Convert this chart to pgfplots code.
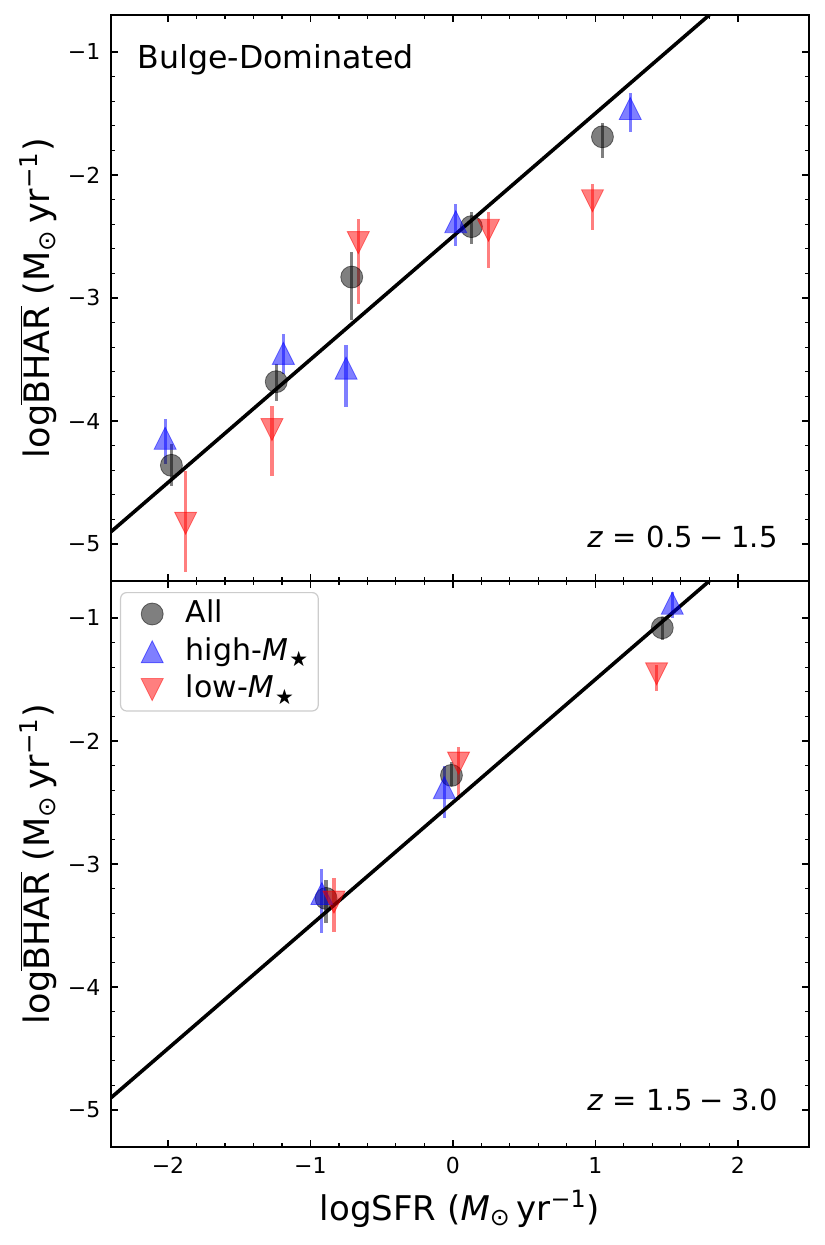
\documentclass[border=0pt]{standalone}
\usepackage{fontspec}
\setmainfont{DejaVu Sans}
\usepackage{pgfplots}
\usepackage{pgfplotstable}
\pgfplotsset{compat=1.18}

% matplotlib-like triangles: as wide as they are tall
\pgfdeclareplotmark{tup}{%
  \pgfpathmoveto{\pgfqpoint{0pt}{\pgfplotmarksize}}%
  \pgfpathlineto{\pgfqpoint{-\pgfplotmarksize}{-\pgfplotmarksize}}%
  \pgfpathlineto{\pgfqpoint{\pgfplotmarksize}{-\pgfplotmarksize}}%
  \pgfpathclose
  \pgfusepathqfillstroke}
\pgfdeclareplotmark{tdown}{%
  \pgfpathmoveto{\pgfqpoint{0pt}{-\pgfplotmarksize}}%
  \pgfpathlineto{\pgfqpoint{-\pgfplotmarksize}{\pgfplotmarksize}}%
  \pgfpathlineto{\pgfqpoint{\pgfplotmarksize}{\pgfplotmarksize}}%
  \pgfpathclose
  \pgfusepathqfillstroke}

% stellar-mass subscript
\newcommand{\mstar}{\textit{M}\kern0.05em\raisebox{-0.22em}{\fontsize{10.5}{12}\selectfont ★}}

% z = 0.5 - 1.5
\pgfplotstableread{
x y ep em
-1.976 -4.36 0.17 0.17
-1.24 -3.68 0.14 0.16
-0.71 -2.83 0.20 0.35
0.13 -2.42 0.12 0.14
1.05 -1.69 0.11 0.17
}\loall
\pgfplotstableread{
x y ep em
-2.02 -4.14 0.16 0.21
-1.19 -3.45 0.16 0.17
-0.75 -3.57 0.19 0.32
0.02 -2.38 0.14 0.20
1.245 -1.46 0.13 0.19
}\lohigh
\pgfplotstableread{
x y ep em
-1.876 -4.83 0.42 0.40
-1.27 -4.07 0.19 0.38
-0.664 -2.55 0.19 0.50
0.25 -2.45 0.15 0.31
0.98 -2.21 0.14 0.24
}\lolow

% z = 1.5 - 3.0
\pgfplotstableread{
x y ep em
-0.89 -3.28 0.15 0.20
-0.01 -2.28 0.11 0.09
1.47 -1.08 0.09 0.10
}\hiall
\pgfplotstableread{
x y ep em
-0.92 -3.24 0.20 0.32
-0.06 -2.38 0.18 0.25
1.54 -0.88 0.09 0.12
}\hihigh
\pgfplotstableread{
x y ep em
-0.835 -3.31 0.20 0.24
0.04 -2.18 0.13 0.30
1.43 -1.455 0.075 0.135
}\hilow

% fitted relation, logBHAR = logSFR - 2.5
\pgfplotstableread{
x y
-2.4 -4.9
1.8 -0.7
}\relation

\pgfplotsset{
  panel/.style={
    scale only axis, width=349pt, height=283pt,
    xmin=-2.4, xmax=2.5, ymin=-5.3, ymax=-0.7,
    xtick={-2,-1,0,1,2}, ytick={-5,-4,-3,-2,-1},
    yticklabels={−5,−4,−3,−2,−1},
    minor x tick num=4, minor y tick num=4,
    tick align=inside, xtick pos=both, ytick pos=both,
    major tick length=3.5pt, minor tick length=2pt,
    every tick/.style={black, line width=0.8pt},
    every minor tick/.style={black, line width=0.6pt},
    axis line style={line width=1pt},
    tick label style={font=\fontsize{11}{13}\selectfont},
    xticklabel shift=1.8pt, yticklabel shift=1.8pt,
    ylabel={log$\overline{\mbox{BHAR}}$ (M\textsubscript{⊙}\,yr\textsuperscript{−1})},
    ylabel style={at={(axis description cs:-0.0874,0.5)}, anchor=base, rotate=0,
      font=\fontsize{17.5}{20}\selectfont},
  },
  grp/.style={forget plot, only marks,
    error bars/.cd, y dir=both, y explicit, error mark=none,
    error bar style={line width=1.6pt, #1, opacity=0.5}},
  allm/.style={mark=*, mark size=5.5pt,
    mark options={draw=black, fill=black, opacity=0.5, line width=0.4pt, sharp corners}},
  highm/.style={mark=tup, mark size=5.5pt,
    mark options={draw=blue, fill=blue, opacity=0.5, line width=0.4pt, sharp corners}},
  lowm/.style={mark=tdown, mark size=5.5pt,
    mark options={draw=red, fill=red, opacity=0.5, line width=0.4pt, sharp corners}},
  % legend symbol: a single marker, with room to its left
  markkey/.style={only marks, #1,
    legend image code/.code={%
      \path (0pt,0pt) (18pt,0pt);
      \draw[##1] plot coordinates {(12.5pt,0pt)};}},
}

\begin{document}
\begin{tikzpicture}
\useasboundingbox (-55.5pt,-49pt) rectangle (356.5pt,573.5pt);

% upper panel
\begin{axis}[panel, at={(0pt,283pt)}, anchor=south west,
  xticklabels={,,,,}]
  \addplot[allm, grp=black] table[x=x, y=y, y error plus=ep, y error minus=em] {\loall};
  \addplot[highm, grp=blue] table[x=x, y=y, y error plus=ep, y error minus=em] {\lohigh};
  \addplot[lowm, grp=red] table[x=x, y=y, y error plus=ep, y error minus=em] {\lolow};
  \addplot[forget plot, black, line width=1.8pt, no marks] table {\relation};
  \node[anchor=north west, inner sep=0pt, font=\fontsize{15.8}{18}\selectfont]
    at (axis description cs:0.038,0.949) {Bulge-Dominated};
  \node[anchor=base east, inner sep=0pt, font=\fontsize{14.5}{17}\selectfont]
    at (axis description cs:0.9556,0.059)
    {\textit{z}\kern0.33em=\kern0.33em0.5\kern0.25em−\kern0.25em1.5};
\end{axis}

% lower panel
\begin{axis}[panel, at={(0pt,0pt)}, anchor=south west,
  xticklabels={−2,−1,0,1,2},
  xlabel={logSFR (\textit{M}\textsubscript{⊙}\,yr\textsuperscript{−1})},
  xlabel style={at={(axis description cs:0.5,-0.129)}, anchor=base,
    font=\fontsize{17}{20}\selectfont},
  legend style={at={(axis description cs:0,1)}, anchor=north west,
    xshift=4.5pt, yshift=-5.5pt, draw=black!20, line width=0.6pt,
    rounded corners=3pt, fill=white, font=\fontsize{15}{17}\selectfont,
    inner xsep=3pt, inner ysep=1.5pt, row sep=0.5pt, column sep=9pt,
    nodes={inner sep=2pt, text depth=3pt}},
  legend cell align=left]
  \addplot[allm, grp=black] table[x=x, y=y, y error plus=ep, y error minus=em] {\hiall};
  \addplot[highm, grp=blue] table[x=x, y=y, y error plus=ep, y error minus=em] {\hihigh};
  \addplot[lowm, grp=red] table[x=x, y=y, y error plus=ep, y error minus=em] {\hilow};
  \addplot[forget plot, black, line width=1.8pt, no marks] table {\relation};
  \addlegendimage{markkey=allm}
  \addlegendentry{All}
  \addlegendimage{markkey=highm}
  \addlegendentry{high-\mstar}
  \addlegendimage{markkey=lowm}
  \addlegendentry{low-\mstar}
  \node[anchor=base east, inner sep=0pt, font=\fontsize{14.5}{17}\selectfont]
    at (axis description cs:0.9556,0.065)
    {\textit{z}\kern0.33em=\kern0.33em1.5\kern0.25em−\kern0.25em3.0};
\end{axis}
\end{tikzpicture}
\end{document}
